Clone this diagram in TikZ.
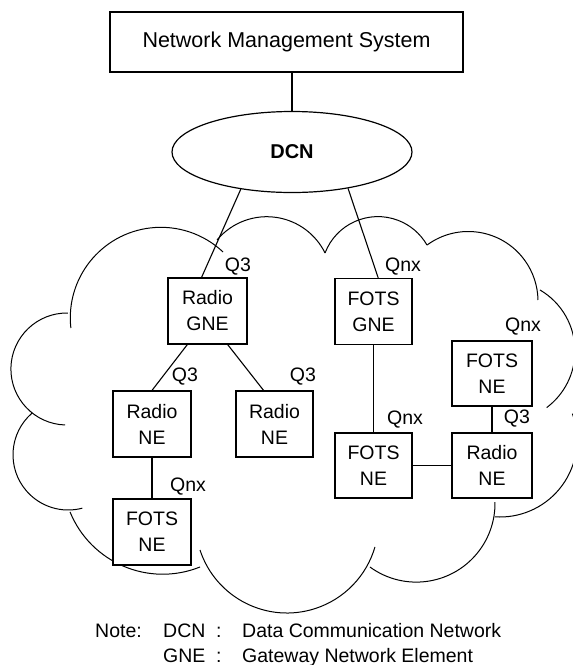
\documentclass[tikz,border=0pt]{standalone}
\usepackage{fontspec}
\setmainfont{Liberation Sans}
\usetikzlibrary{shapes.geometric}

\tikzset{
  elem/.style={draw,line width=1.2pt,fill=white,align=center,inner sep=0pt,
    minimum width=78pt,minimum height=66pt,font=\fontsize{19.5}{26}\selectfont},
  iface/.style={inner sep=0pt,font=\fontsize{19.5}{23}\selectfont},
  notetext/.style={anchor=base west,inner sep=0pt,font=\fontsize{19.5}{23}\selectfont},
  link/.style={line width=1.1pt},
  cloud/.style={line width=1pt},
}

\begin{document}
\begin{tikzpicture}[x=1pt,y=-1pt]
  \useasboundingbox (0,0) rectangle (573,665);

  % Cloud outline (one arc per lobe: centre / start / end / radius)
  \begin{scope}
    \clip (0,0) rectangle (573,665);
    \foreach \cx/\cy/\s/\e/\r in {160.9/317.9/173.6/313.3/90.6, 266.8/281.6/219.9/333.8/64.9,
        377.9/273.2/200.9/330.1/56.6, 468.3/301.2/233.7/359.0/69.7,
        504.3/351/-59.7/53.2/70.7, 500/440/-20/94/77,
        416.3/503.4/126.1/-1.0/78.7, 287.0/521.4/161.8/16.2/91.6,
        162.7/474.1/157.8/68.1/100.1, 68.2/454.8/229.1/75.2/55.2,
        66.9/369.0/271.1/91.9/56}
      \draw[cloud] (\cx,\cy) ++(\s:\r) arc[start angle=\s, end angle=\e, radius=\r];
  \end{scope}

  % Management layer
  \node[draw,line width=1.2pt,inner sep=0pt,minimum width=353pt,minimum height=60pt,
    font=\fontsize{21.5}{26}\selectfont] (nms) at (286.5,42) {Network Management System};
  \node[ellipse,draw,line width=1.2pt,inner sep=0pt,minimum width=240pt,minimum height=81pt,
    font=\bfseries\fontsize{20}{24}\selectfont] (dcn) at (292,152) {DCN};
  \draw[link] (dcn.north) -- (dcn.north |- nms.south);

  % Network elements
  \node[elem,minimum width=79pt] (rgne) at (207.5,311) {Radio\\GNE};
  \node[elem,minimum width=77pt] (fgne) at (373.5,311.5) {FOTS\\GNE};
  \node[elem] (rne1) at (152,424) {Radio\\NE};
  \node[elem,minimum width=77pt] (rne2) at (274.5,424) {Radio\\NE};
  \node[elem] (fne1) at (152,532) {FOTS\\NE};
  \node[elem,minimum width=77pt,minimum height=65pt] (fne2) at (373.5,465.5) {FOTS\\NE};
  \node[elem,minimum width=80pt,minimum height=65pt] (fne3) at (492,373.5) {FOTS\\NE};
  \node[elem,minimum width=80pt,minimum height=65pt] (rne3) at (492,465.5) {Radio\\NE};

  % Links
  \draw[link] (dcn.216) -- (rgne.100);
  \draw[link] (dcn.-33) -- (fgne.82);
  \draw[link] (rgne.-121) -- (rne1.north);
  \draw[link] (rgne.-59) -- (rne2.108);
  \draw[link] (rne1) -- (fne1);
  \draw[link] (fgne) -- (fne2);
  \draw[link] (fne2) -- (rne3);
  \draw[link] (fne3) -- (rne3);

  % Interface labels
  \node[iface] (q3a) at (238,267) {Q3};
  \node[iface] (qnxa) at (403,267) {Qnx};
  \node[iface] (q3b) at (185,377) {Q3};
  \node[iface] (q3c) at (303,377) {Q3};
  \node[iface] (qnxb) at (523,327) {Qnx};
  \node[iface] (qnxc) at (188,487) {Qnx};
  \node[iface] (qnxd) at (405,420) {Qnx};
  \node[iface] (q3d) at (517,419) {Q3};

  % Note
  \node[notetext] (note) at (95,637) {Note:};
  \node[notetext] (dcnkey) at (163,637) {DCN};
  \node[notetext] (colona) at (216,637) {:};
  \node[notetext] (dcndef) at (242,637) {Data Communication Network};
  \node[notetext] (gnekey) at (163,662) {GNE};
  \node[notetext] (colonb) at (216,662) {:};
  \node[notetext] (gnedef) at (242,662) {Gateway Network Element};
\end{tikzpicture}
\end{document}
